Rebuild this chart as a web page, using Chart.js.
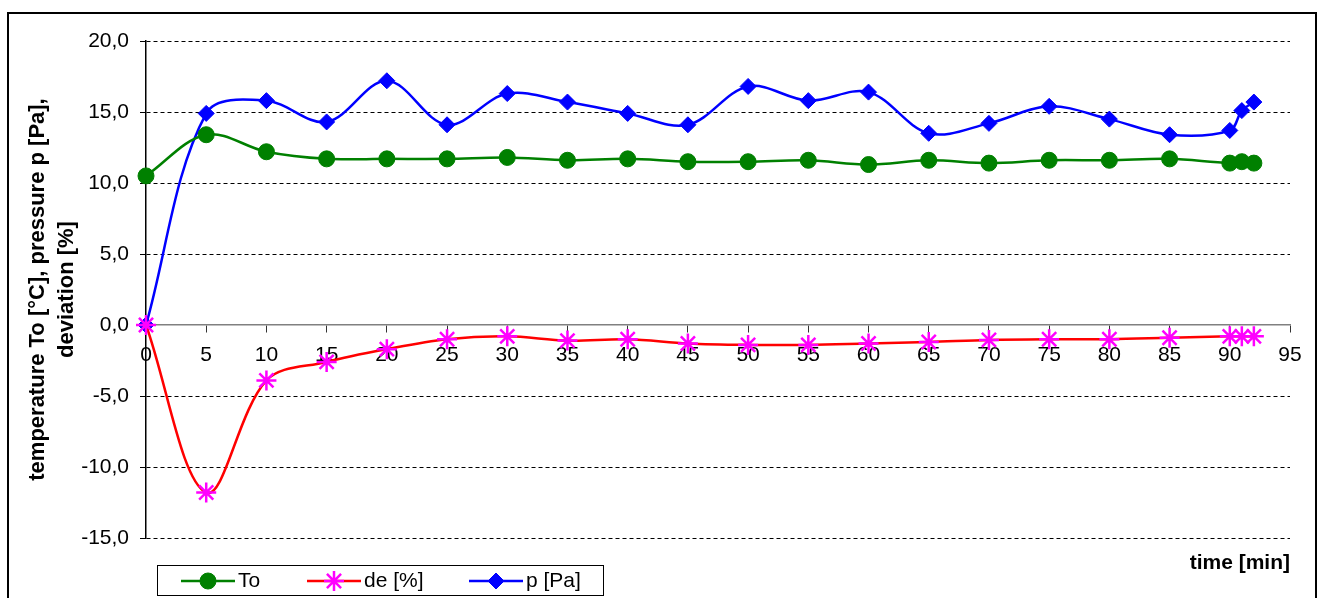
<!DOCTYPE html>
<html>
<head>
<meta charset="utf-8">
<title>To, de, p vs time</title>
<script src="https://cdn.jsdelivr.net/npm/chart.js@4"></script>
<style>
  html, body { margin: 0; padding: 0; background: #fff; }
  #wrap { width: 1321px; height: 598px; }
</style>
</head>
<body>
<div id="wrap"><canvas id="chart" width="1321" height="598"></canvas></div>
<script>
// time [min]
const times = [0, 5, 10, 15, 20, 25, 30, 35, 40, 45, 50, 55, 60, 65, 70, 75, 80, 85, 90, 91, 92];
// temperature To [°C]
const toValues = [10.5, 13.4, 12.2, 11.7, 11.7, 11.7, 11.8, 11.6, 11.7, 11.5, 11.5, 11.6, 11.3, 11.6, 11.4, 11.6, 11.6, 11.7, 11.4, 11.5, 11.4];
// deviation de [%]
const deValues = [0, -11.8, -3.9, -2.6, -1.7, -1.0, -0.8, -1.1, -1.0, -1.3, -1.4, -1.4, -1.3, -1.2, -1.05, -1.0, -1.0, -0.9, -0.8, -0.8, -0.8];
// pressure p [Pa]
const pValues = [0, 14.9, 15.8, 14.3, 17.2, 14.1, 16.3, 15.7, 14.9, 14.1, 16.8, 15.8, 16.4, 13.5, 14.2, 15.4, 14.5, 13.4, 13.7, 15.1, 15.7];

const xTicks = [0, 5, 10, 15, 20, 25, 30, 35, 40, 45, 50, 55, 60, 65, 70, 75, 80, 85, 90, 95];
const yTicks = [-15, -10, -5, 0, 5, 10, 15, 20];

const FONT = '"Liberation Sans", Arial, sans-serif';

function pairs(vals) {
    return times.map((t, i) => ({ x: t, y: vals[i] }));
}

// frame, x axis title and legend
const decor = {
    id: 'decor',
    beforeDraw(chart) {
        const ctx = chart.ctx;
        ctx.save();
        ctx.fillStyle = '#fff';
        ctx.fillRect(0, 0, chart.width, chart.height);
        ctx.strokeStyle = '#000';
        ctx.lineWidth = 2;
        ctx.strokeRect(8, 13, 1308, 600);
        ctx.restore();
    },
    afterDraw(chart) {
        const ctx = chart.ctx;
        ctx.save();
        ctx.fillStyle = '#000';
        ctx.font = 'bold 21px ' + FONT;
        ctx.textAlign = 'right';
        ctx.textBaseline = 'middle';
        ctx.fillText('time [min]', chart.chartArea.right, 563);

        // legend
        ctx.strokeStyle = '#000';
        ctx.lineWidth = 1;
        ctx.strokeRect(157.5, 565.5, 446, 30);
        const starts = [181, 307, 469];
        ctx.font = '21px ' + FONT;
        ctx.textAlign = 'left';
        chart.data.datasets.forEach((ds, i) => {
            const x = starts[i], y = 581;
            ctx.strokeStyle = ds.borderColor;
            ctx.lineWidth = 2.5;
            ctx.beginPath();
            ctx.moveTo(x, y);
            ctx.lineTo(x + 54, y);
            ctx.stroke();
            ctx.fillStyle = ds.pointBackgroundColor;
            ctx.strokeStyle = ds.pointBorderColor;
            ctx.lineWidth = ds.pointBorderWidth;
            Chart.helpers.drawPoint(ctx, {
                pointStyle: ds.pointStyle,
                radius: ds.pointRadius,
                rotation: 0,
                borderWidth: ds.pointBorderWidth
            }, x + 27, y);
            ctx.fillStyle = '#000';
            ctx.fillText(ds.label, x + 57, y);
        });
        ctx.restore();
    }
};

new Chart(document.getElementById('chart').getContext('2d'), {
    type: 'line',
    data: {
        datasets: [{
            label: 'To',
            data: pairs(toValues),
            borderColor: '#008000',
            backgroundColor: '#008000',
            pointBackgroundColor: '#008000',
            pointBorderColor: '#008000',
            pointStyle: 'circle',
            pointRadius: 8,
            pointBorderWidth: 1,
            borderWidth: 2.5,
            tension: 0.35,
            clip: false
        }, {
            label: 'de [%]',
            data: pairs(deValues),
            borderColor: '#FF0000',
            backgroundColor: '#FF0000',
            pointBackgroundColor: '#FF00FF',
            pointBorderColor: '#FF00FF',
            pointStyle: 'star',
            pointRadius: 10,
            pointBorderWidth: 2.5,
            borderWidth: 2.5,
            tension: 0.35,
            clip: false
        }, {
            label: 'p [Pa]',
            data: pairs(pValues),
            borderColor: '#0000FF',
            backgroundColor: '#0000FF',
            pointBackgroundColor: '#0000FF',
            pointBorderColor: '#0000FF',
            pointStyle: 'rectRot',
            pointRadius: 8,
            pointBorderWidth: 1,
            borderWidth: 2.5,
            tension: 0.35,
            clip: false
        }]
    },
    options: {
        responsive: false,
        animation: false,
        events: [],
        layout: { padding: { left: 10, right: 31, top: 41, bottom: 60 } },
        plugins: {
            legend: { display: false },
            tooltip: { enabled: false }
        },
        scales: {
            x: {
                type: 'linear',
                position: { y: 0 },
                min: 0,
                max: 95,
                afterBuildTicks: scale => { scale.ticks = xTicks.map(v => ({ value: v })); },
                ticks: {
                    color: '#000',
                    font: { family: FONT, size: 21 },
                    padding: 11,
                    maxRotation: 0,
                    autoSkip: false
                },
                grid: {
                    drawOnChartArea: false,
                    drawTicks: true,
                    tickLength: 7,
                    tickColor: '#333'
                },
                border: { display: true, color: '#808080', width: 1.5 }
            },
            y: {
                min: -15,
                max: 20,
                afterFit: scale => { scale.width = 136; },
                afterBuildTicks: scale => { scale.ticks = yTicks.map(v => ({ value: v })); },
                ticks: {
                    color: '#000',
                    font: { family: FONT, size: 21 },
                    padding: 11,
                    callback: v => v.toFixed(1).replace('.', ',')
                },
                grid: {
                    color: ctx => (ctx.tick && ctx.tick.value === 0) ? 'rgba(0,0,0,0)' : '#000',
                    tickColor: '#000',
                    lineWidth: 1,
                    tickLength: 6,
                    tickBorderDash: []
                },
                border: { display: true, color: '#000', width: 1.5, dash: [4, 3] },
                title: {
                    display: true,
                    text: ['temperature To [°C], pressure p [Pa],', 'deviation [%]'],
                    color: '#000',
                    font: { family: FONT, size: 22, weight: 'bold', lineHeight: 1.32 },
                    padding: { top: 13, bottom: 0 }
                }
            }
        }
    },
    plugins: [decor]
});
</script>
</body>
</html>
